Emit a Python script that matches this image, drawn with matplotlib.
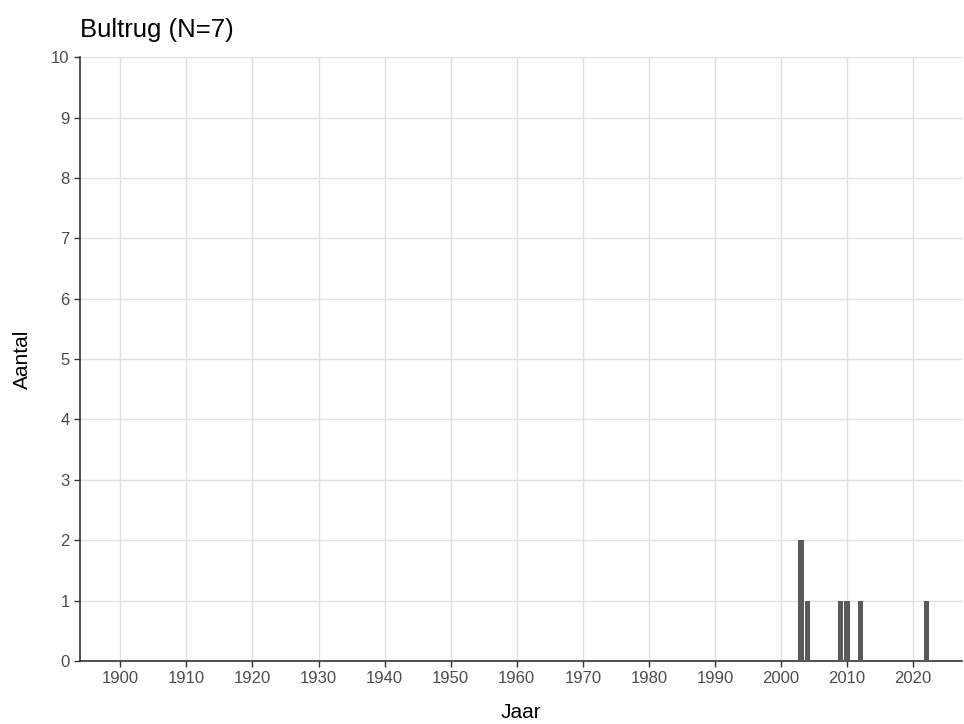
import matplotlib
matplotlib.use("Agg")
import matplotlib.pyplot as plt
import numpy as np

years = [2003, 2004, 2009, 2010, 2012, 2022]
counts = [2, 1, 1, 1, 1, 1]
xticks = list(range(1900, 2021, 10))
yticks = list(range(0, 11))

plt.rcParams['font.family'] = ['Liberation Sans', 'DejaVu Sans']
fig = plt.figure(figsize=(9.64, 7.24), dpi=100)
ax = fig.add_axes([0.083, 0.087, 0.915, 0.834])
ax.bar(years, counts, width=0.85, color='#595959', zorder=3)
ax.set_xlim(1893.9, 2027.4)
ax.set_ylim(0, 10)
ax.set_xticks(xticks)
ax.set_yticks(yticks)
ax.grid(True, color='#e0e0e0', linewidth=1.0, zorder=0)
for s in ['top', 'right']:
    ax.spines[s].set_visible(False)
for s in ['left', 'bottom']:
    ax.spines[s].set_color('#333333')
    ax.spines[s].set_linewidth(1.2)
ax.tick_params(axis='both', colors='#333333', labelcolor='#4d4d4d', labelsize=12, length=4, width=1)
ax.set_xlabel('Jaar', fontsize=15, labelpad=12)
ax.set_ylabel('Aantal', fontsize=15, labelpad=14)
fig.text(0.083, 0.958, 'Bultrug (N=7)', fontsize=18.5, ha='left', va='center')
fig.savefig('out.png', dpi=100)
